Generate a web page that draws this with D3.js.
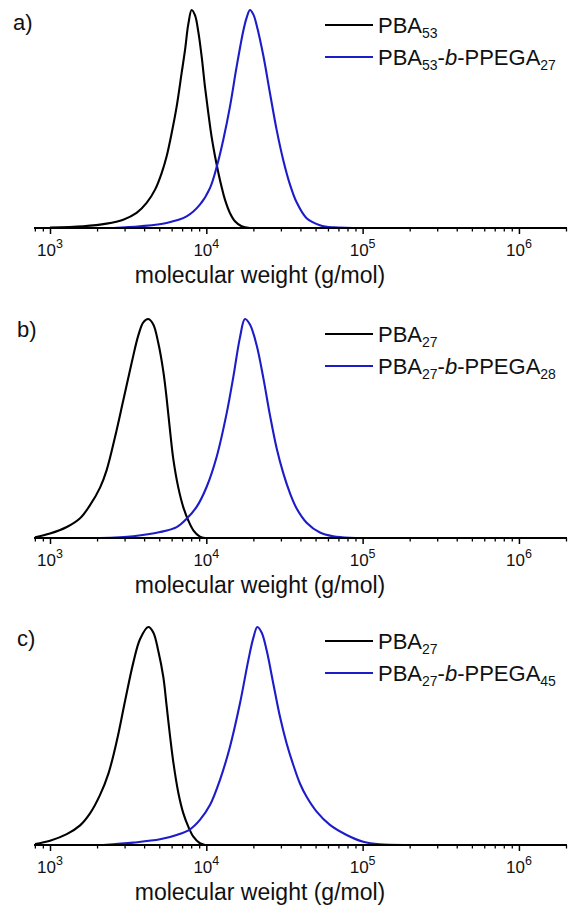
<!DOCTYPE html>
<html><head><meta charset="utf-8">
<script src="https://cdn.jsdelivr.net/npm/d3@7"></script>
<style>body{margin:0;background:#fff} svg{display:block;background:#fff}</style>
</head><body>
<svg id="chart" width="573" height="905"></svg>
<script>
// ---- data (molecular weight in g/mol, normalized detector signal) ----
const majorTicks = [1e3, 1e4, 1e5, 1e6];
const tickExponents = ["3", "4", "5", "6"];
const panelLabels = ["a)", "b)", "c)"];
const axisTitle = "molecular weight (g/mol)";

const legendA = ["PBA_{53}", "PBA_{53}-*b*-PPEGA_{27}"];
const legendB = ["PBA_{27}", "PBA_{27}-*b*-PPEGA_{28}"];
const legendC = ["PBA_{27}", "PBA_{27}-*b*-PPEGA_{45}"];

const aPBA = [[1000,0.002],[1630,0.008],[2300,0.020],[2940,0.038],[3580,0.069],[4150,0.115],[4700,0.176],[5180,0.252],[5570,0.328],[6000,0.435],[6460,0.557],[6950,0.710],[7310,0.817],[7670,0.935],[8060,1.0],[8470,0.975],[8890,0.900],[9340,0.786],[9800,0.649],[10300,0.527],[10800,0.420],[11360,0.330],[11930,0.255],[12530,0.188],[13160,0.130],[14160,0.069],[15250,0.031],[16820,0.008],[19000,0]];
const aBlock = [[2540,0],[3770,0.008],[5570,0.023],[7480,0.053],[9100,0.107],[10550,0.183],[11750,0.290],[12840,0.405],[14170,0.557],[15630,0.740],[17250,0.905],[18120,0.965],[19020,1.0],[19990,0.980],[20990,0.930],[23170,0.790],[25550,0.618],[28180,0.450],[31100,0.310],[34280,0.200],[37830,0.118],[43820,0.045],[53330,0.013],[64890,0.003],[129000,0]];

const bPBA = [[802,0.003],[1000,0.02],[1280,0.05],[1557,0.09],[1803,0.15],[2090,0.23],[2304,0.31],[2604,0.46],[2946,0.63],[3330,0.80],[3673,0.925],[3954,0.985],[4255,1.0],[4580,0.975],[4930,0.89],[5310,0.76],[5570,0.64],[5860,0.49],[6150,0.36],[6620,0.23],[7130,0.14],[7670,0.08],[8260,0.035],[9100,0.006],[9800,0]];
const bBlock = [[2090,0],[3410,0.008],[5060,0.027],[6460,0.05],[7480,0.088],[8670,0.142],[10040,0.233],[11640,0.37],[13490,0.569],[14890,0.736],[16410,0.915],[17670,1.0],[19020,0.975],[20990,0.88],[23170,0.73],[25550,0.56],[28180,0.41],[31100,0.295],[34280,0.205],[37830,0.135],[43820,0.07],[53330,0.025],[64890,0.008],[82900,0.001],[111400,0]];

const cPBA = [[802,0.005],[1000,0.02],[1280,0.05],[1557,0.09],[1803,0.145],[2090,0.23],[2370,0.33],[2680,0.48],[3030,0.665],[3420,0.84],[3770,0.945],[4255,1.0],[4580,0.975],[4930,0.89],[5310,0.77],[5570,0.64],[5860,0.50],[6150,0.38],[6620,0.24],[7130,0.145],[7670,0.084],[8260,0.038],[9100,0.008],[9800,0]];
const cBlock = [[2190,0],[3410,0.011],[5060,0.026],[6460,0.046],[7870,0.072],[9100,0.115],[10550,0.183],[12220,0.298],[14160,0.45],[16410,0.649],[18560,0.847],[19990,0.95],[21200,1.0],[22590,0.975],[24320,0.893],[26830,0.74],[29600,0.588],[32650,0.466],[36060,0.366],[39720,0.282],[43820,0.221],[50800,0.153],[61780,0.092],[79000,0.046],[100900,0.015],[129000,0.003],[191000,0]];

const panels = [
  {label: panelLabels[0], legend: legendA, series: [aPBA, aBlock]},
  {label: panelLabels[1], legend: legendB, series: [bPBA, bBlock]},
  {label: panelLabels[2], legend: legendC, series: [cPBA, cBlock]}
];

// ---- layout ----
const colors = ["#000000", "#1c1cc8"];
const FONT = "'Liberation Sans', Arial, sans-serif";
const xLeft = 34, xRight = 567;
const layout = [
  {base: 228, top: 10, labelX: 13, labelY: 30, legY: 25},
  {base: 538, top: 319, labelX: 17, labelY: 337, legY: 334},
  {base: 845, top: 627, labelX: 17, labelY: 646, legY: 641}
];

const svg = d3.select("#chart");
const x = d3.scaleLog().domain([790, 2.03e6]).range([xLeft, xRight]);
const minorTicks = x.ticks().filter(t => !majorTicks.some(m => Math.abs(m - t) < 1e-6));

function richText(sel, str, subSize) {
  const parts = str.split(/(_\{[^}]*\}|\*[^*]*\*)/).filter(s => s.length);
  let pending = 0;
  parts.forEach(p => {
    let ts;
    if (p.startsWith("_{")) {
      ts = sel.append("tspan").attr("font-size", subSize).attr("dy", 5 + pending).text(p.slice(2, -1));
      pending = -5;
      return;
    } else if (p.startsWith("*")) {
      ts = sel.append("tspan").attr("font-style", "italic").text(p.slice(1, -1));
    } else {
      ts = sel.append("tspan").text(p);
    }
    if (pending) ts.attr("dy", pending);
    pending = 0;
  });
}

panels.forEach((p, i) => {
  const L = layout[i];
  const y = d3.scaleLinear().domain([0, 1]).range([L.base, L.top]);
  const g = svg.append("g");

  // curves
  const line = d3.line().x(d => x(d[0])).y(d => Math.min(L.base, y(d[1]))).curve(d3.curveCatmullRom.alpha(0.5));
  p.series.forEach((s, k) => {
    g.append("path").datum(s).attr("d", line)
      .attr("fill", "none").attr("stroke", colors[k]).attr("stroke-width", 2.1)
      .attr("stroke-linejoin", "round");
  });

  // axis
  const axis = d3.axisBottom(x).tickValues(majorTicks).tickSize(6).tickFormat("");
  const ag = g.append("g").attr("transform", `translate(0,${L.base})`).call(axis);
  ag.select(".domain").attr("stroke", "#000").attr("stroke-width", 2).attr("d", `M${xLeft},0H${xRight}`);
  ag.selectAll(".tick line").attr("stroke", "#000").attr("stroke-width", 1.5);
  const minorAxis = d3.axisBottom(x).tickValues(minorTicks).tickSize(3.5).tickFormat("");
  const mg = g.append("g").attr("transform", `translate(0,${L.base})`).call(minorAxis);
  mg.select(".domain").remove();
  mg.selectAll(".tick line").attr("stroke", "#000").attr("stroke-width", 1.3);

  // tick labels 10^n
  majorTicks.forEach((t, j) => {
    const tx = g.append("text").attr("x", x(t)).attr("y", L.base + 28)
      .attr("text-anchor", "middle").attr("font-family", FONT).attr("font-size", 17).attr("fill", "#111");
    tx.append("tspan").text("10");
    tx.append("tspan").attr("font-size", 12.5).attr("dy", -8).text(tickExponents[j]);
  });

  // axis title
  g.append("text").attr("x", 260).attr("y", L.base + 55).attr("text-anchor", "middle")
    .attr("font-family", FONT).attr("font-size", 23).attr("fill", "#111").text(axisTitle);

  // panel label
  g.append("text").attr("x", L.labelX).attr("y", L.labelY)
    .attr("font-family", FONT).attr("font-size", 22).attr("fill", "#111").text(p.label);

  // legend
  p.legend.forEach((name, k) => {
    const ly = L.legY + k * 32;
    g.append("line").attr("x1", 325).attr("x2", 373).attr("y1", ly).attr("y2", ly)
      .attr("stroke", colors[k]).attr("stroke-width", 2);
    const t = g.append("text").attr("x", 378).attr("y", ly + 8)
      .attr("font-family", FONT).attr("font-size", 22).attr("fill", "#111");
    richText(t, name, 14);
  });
});
</script>
</body></html>
